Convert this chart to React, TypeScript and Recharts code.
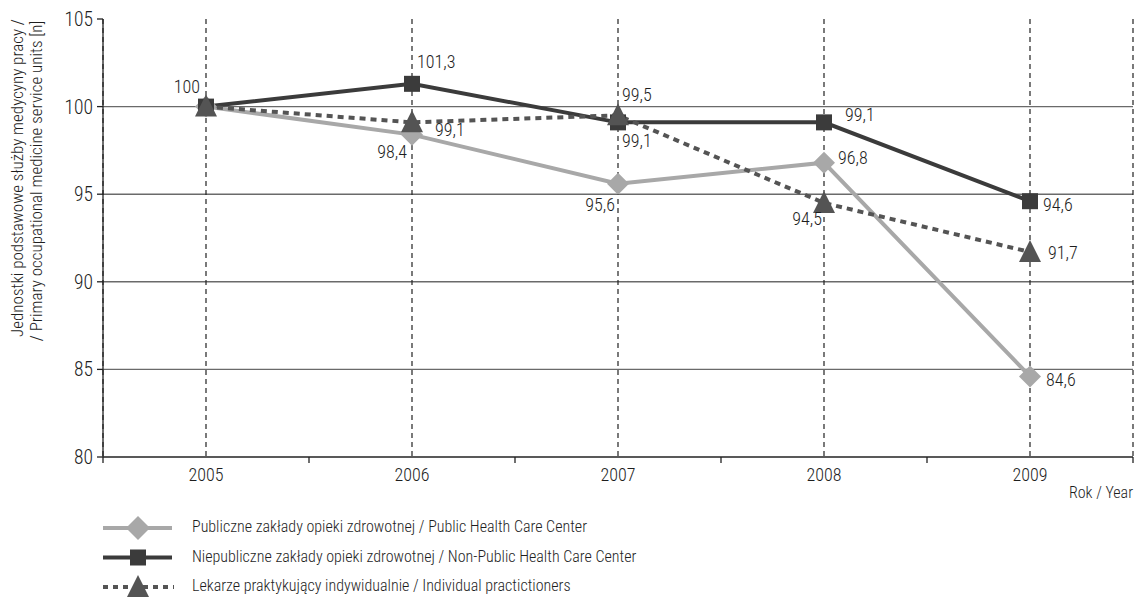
import { LineChart, Line, XAxis, YAxis, CartesianGrid, LabelList } from "recharts";

const years = ["2005", "2006", "2007", "2008", "2009"];
const publicCenters = [100, 98.4, 95.6, 96.8, 84.6];
const nonPublicCenters = [100, 101.3, 99.1, 99.1, 94.6];
const individualPract = [100, 99.1, 99.5, 94.5, 91.7];
const yTicks = [80, 85, 90, 95, 100, 105];

const seriesNames = [
  "Publiczne zakłady opieki zdrowotnej / Public Health Care Center",
  "Niepubliczne zakłady opieki zdrowotnej / Non-Public Health Care Center",
  "Lekarze praktykujący indywidualnie / Individual practictioners",
];

const data = years.map((y, i) => ({
  year: y,
  pub: publicCenters[i],
  nonpub: nonPublicCenters[i],
  ind: individualPract[i],
}));

const FONT = '"Roboto Condensed", "Liberation Sans Narrow", "DejaVu Sans Condensed", sans-serif';
const FW = 300;
const TXT = "#1e1e1e";
const C_PUB = "#a8a8a8";
const C_NON = "#3b3b3b";
const C_IND = "#545454";

// label offsets [dx, dy, anchor] per point; null = no label
type Pos = [number, number, string] | null;
const POS_PUB: Pos[] = [null, [-5, 19, "end"], [-3, 23, "end"], [14, -3, "start"], [16, 5, "start"]];
const POS_NON: Pos[] = [[-6, -18, "end"], [5, -21, "start"], [4, 20, "start"], [21, -6, "start"], [13, 5, "start"]];
const POS_IND: Pos[] = [null, [23, 9, "start"], [4, -19, "start"], [-2, 17, "end"], [18, 2, "start"]];

const fmt = (v: number) => String(v).replace(".", ",");

const makeLabel = (pos: Pos[]) => (props: any) => {
  const { x, y, value, index } = props;
  const p = pos[index];
  if (!p) return null;
  return (
    <text x={x + p[0]} y={y + p[1]} textAnchor={p[2] as any} dominantBaseline="middle"
      fontFamily={FONT} fontWeight={FW} fontSize={18} fill={TXT}>
      {fmt(value)}
    </text>
  );
};

const Diamond = (props: any) => {
  const { cx, cy, fill, half = 11 } = props;
  if (cx == null) return null;
  const h = half;
  return <path d={`M${cx},${cy - h} L${cx + h},${cy} L${cx},${cy + h} L${cx - h},${cy} Z`} fill={fill} />;
};
const Square = (props: any) => {
  const { cx, cy, fill } = props;
  if (cx == null) return null;
  return <rect x={cx - 8} y={cy - 8} width={16} height={16} fill={fill} />;
};
const Triangle = (props: any) => {
  const { cx, cy, fill } = props;
  if (cx == null) return null;
  return <path d={`M${cx},${cy - 12} L${cx + 11},${cy + 10} L${cx - 11},${cy + 10} Z`} fill={fill} />;
};

const BAND = 206;

const XTick = (props: any) => {
  const { x, y, payload, index } = props;
  return (
    <g>
      <line x1={x - BAND / 2} x2={x - BAND / 2} y1={y} y2={y + 6} stroke="#222" strokeWidth={1.3} />
      {index === years.length - 1 && (
        <line x1={x + BAND / 2} x2={x + BAND / 2} y1={y} y2={y + 6} stroke="#222" strokeWidth={1.3} />
      )}
      <text x={x} y={y + 19} textAnchor="middle" dominantBaseline="middle" fontFamily={FONT} fontWeight={FW} fontSize={18} fill={TXT}>
        {payload.value}
      </text>
    </g>
  );
};

export default function App() {
  return (
    <div style={{ position: "absolute", left: 0, top: 0, width: 1136, height: 600, background: "#fff" }}>
      <LineChart width={1136} height={600} data={data} margin={{ top: 19, right: 3, bottom: 113, left: 53 }}>
        <CartesianGrid vertical={false} horizontalValues={[85, 90, 95, 100]} stroke="#6a6a6a" strokeWidth={1.4} />
        <CartesianGrid horizontal={false} stroke="#222" strokeDasharray="5 4" strokeWidth={1.2} />
        <XAxis dataKey="year" scale="point" padding={{ left: 103, right: 103 }} tickLine={false}
          tickSize={0} tickMargin={0}
          axisLine={{ stroke: "#222", strokeWidth: 1.3 }} tick={<XTick />} height={30} interval={0} />
        <YAxis domain={[80, 105]} ticks={yTicks} width={50} tickSize={6} tickMargin={4}
          axisLine={{ stroke: "#222", strokeWidth: 1.3 }} tickLine={{ stroke: "#222", strokeWidth: 1.3 }}
          tick={{ fontFamily: FONT, fontWeight: FW, fontSize: 19.5, fill: TXT }} />
        <Line dataKey="pub" stroke={C_PUB} strokeWidth={4} dot={<Diamond fill={C_PUB} />} isAnimationActive={false}>
          <LabelList dataKey="pub" content={makeLabel(POS_PUB)} />
        </Line>
        <Line dataKey="nonpub" stroke={C_NON} strokeWidth={4} dot={<Square fill={C_NON} />} isAnimationActive={false}>
          <LabelList dataKey="nonpub" content={makeLabel(POS_NON)} />
        </Line>
        <Line dataKey="ind" stroke={C_IND} strokeWidth={4} strokeDasharray="6 5" dot={<Triangle fill={C_IND} />} isAnimationActive={false}>
          <LabelList dataKey="ind" content={makeLabel(POS_IND)} />
        </Line>
      </LineChart>
      <svg width={1136} height={600} style={{ position: "absolute", left: 0, top: 0, pointerEvents: "none" }}>
        <text transform="translate(19,178) rotate(-90)" textAnchor="middle" dominantBaseline="middle" fontFamily={FONT} fontWeight={FW} fontSize={17} fill={TXT}>
          Jednostki podstawowe służby medycyny pracy /
        </text>
        <text transform="translate(38,181) rotate(-90)" textAnchor="middle" dominantBaseline="middle" fontFamily={FONT} fontWeight={FW} fontSize={17} fill={TXT}>
          / Primary occupational medicine service units [n]
        </text>
        <text x={1133} y={494} textAnchor="end" dominantBaseline="middle" fontFamily={FONT} fontWeight={FW} fontSize={16} fill={TXT}>Rok / Year</text>
        {seriesNames.map((name, i) => {
          const y = 528 + i * 29.5;
          const c = [C_PUB, C_NON, C_IND][i];
          return (
            <g key={name}>
              {i < 2 ? (
                <line x1={103} x2={172} y1={y} y2={y} stroke={c} strokeWidth={4} />
              ) : (
                <line x1={103} x2={174} y1={y} y2={y} stroke={c} strokeWidth={4} strokeDasharray="5 5" />
              )}
              {i === 0 && <Diamond cx={138} cy={y} fill={c} half={12} />}
              {i === 1 && <Square cx={138} cy={y} fill={c} />}
              {i === 2 && <Triangle cx={138} cy={y} fill={c} />}
              <text x={192} y={y} dominantBaseline="middle" fontFamily={FONT} fontWeight={FW} fontSize={16} fill={TXT}>{name}</text>
            </g>
          );
        })}
      </svg>
    </div>
  );
}
